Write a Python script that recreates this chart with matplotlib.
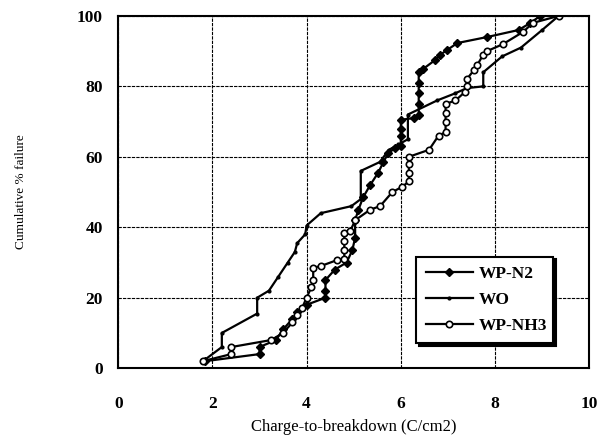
import numpy as np
import matplotlib.pyplot as plt

# cumulative failure curves
wpn2_x = [1.85, 3.0, 3.0, 3.35, 3.5, 3.7, 3.8, 4.0, 4.4, 4.4, 4.4, 4.6, 4.85, 4.97, 5.03, 5.03,
          5.1, 5.2, 5.35, 5.52, 5.63, 5.73, 5.88, 6.0, 6.0, 6.0, 6.0, 6.27, 6.38, 6.38, 6.38, 6.38,
          6.38, 6.48, 6.73, 6.84, 6.98, 7.2, 7.83, 8.5, 8.75, 8.96]
wpn2_y = [2, 4, 6, 8, 11, 14, 16, 18, 20, 22, 25, 28, 30, 33.5, 37, 42,
          45, 48.5, 52, 55.5, 58.5, 61, 62.5, 63, 66, 68, 70.5, 71, 72, 75, 78, 81,
          84, 85, 87.5, 89, 90.3, 92.3, 94, 96, 98, 100]

wo_x = [1.8, 2.2, 2.2, 2.95, 2.95, 3.2, 3.4, 3.6, 3.75, 3.8, 3.97, 4.0, 4.3, 4.95, 5.15, 5.15,
        5.55, 5.75, 5.95, 6.15, 6.15, 6.77, 7.15, 7.4, 7.75, 7.75, 8.15, 8.55, 9.0, 9.35]
wo_y = [2, 6, 10, 15.5, 20, 22, 26, 30, 33, 35.5, 38, 40.5, 44, 46, 48, 56,
        58.5, 62, 63.5, 65, 72, 76, 78, 79.5, 80, 84, 88.5, 91, 96, 100]

wpnh3_x = [1.8, 2.4, 2.4, 3.25, 3.5, 3.7, 3.8, 3.9, 4.0, 4.1, 4.14, 4.14, 4.3, 4.65, 4.8, 4.8,
           4.8, 4.8, 4.93, 5.03, 5.35, 5.56, 5.82, 6.03, 6.17, 6.17, 6.17, 6.17, 6.6, 6.8, 6.95,
           6.95, 6.95, 6.95, 7.16, 7.37, 7.4, 7.4, 7.55, 7.62, 7.75, 7.83, 8.17, 8.6, 8.8, 9.35]
wpnh3_y = [2, 4, 6, 8, 10, 13, 15, 17, 20, 23, 25, 28.5, 29, 30.7, 31, 33.5,
           36, 38.4, 39, 42, 45, 46, 50, 51.5, 53, 55.5, 58, 60, 62, 66, 67,
           70, 72.5, 75, 76, 78.5, 80, 82, 84.6, 86, 89, 90, 92, 95.5, 98, 100]

plt.rcParams['font.family'] = ['Liberation Serif', 'DejaVu Serif']

fig = plt.figure(figsize=(5.97, 4.42), dpi=100)
ax = fig.add_axes([0.198, 0.167, 0.789, 0.797])

ax.plot(wpn2_x, wpn2_y, color='black', lw=1.6, marker='D', ms=4, mfc='black', label='WP-N2')
ax.plot(wo_x, wo_y, color='black', lw=1.6, marker='o', ms=2, label='WO')
ax.plot(wpnh3_x, wpnh3_y, color='black', lw=1.6, marker='o', ms=4.6, mfc='white', mew=1.2,
        label='WP-NH3')

ax.set_xlim(0, 10)
ax.set_ylim(0, 100)
ax.set_xticks([0, 2, 4, 6, 8, 10])
ax.set_yticks([0, 20, 40, 60, 80, 100])
ax.grid(True, color='black', lw=0.8, linestyle=(0, (3, 1)))
ax.tick_params(length=0, labelsize=12.5)
ax.tick_params(axis='x', pad=20)
ax.tick_params(axis='y', pad=11)
for lab in ax.get_xticklabels() + ax.get_yticklabels():
    lab.set_fontweight('bold')
for s in ax.spines.values():
    s.set_linewidth(1.5)

ax.set_xlabel('Charge-to-breakdown (C/cm2)', fontsize=12, labelpad=5)
ax.set_ylabel('Cumulative % failure', fontsize=9.5, labelpad=36)

leg = ax.legend(loc='lower left', bbox_to_anchor=(0.633, 0.071, 0.291, 0.244), mode='expand',
                fancybox=False, shadow={'color': 'black', 'alpha': 1}, edgecolor='black',
                handlelength=2.7, handletextpad=0.35, prop={'weight': 'bold', 'size': 12.5},
                borderaxespad=0, labelspacing=0.55, borderpad=0.55)
leg.get_frame().set_linewidth(1.5)

fig.savefig('out.png', dpi=100)
